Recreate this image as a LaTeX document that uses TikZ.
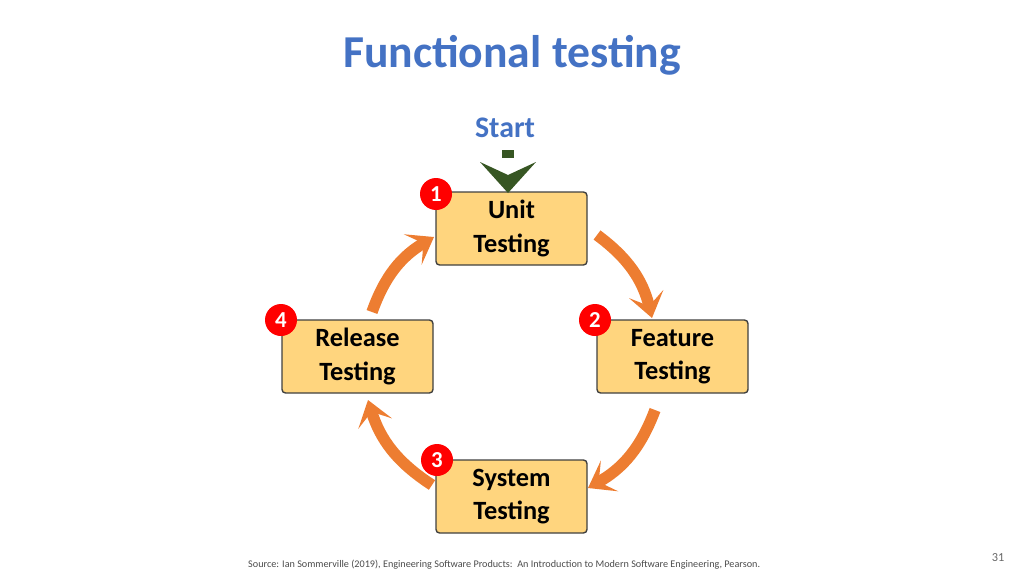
\documentclass[tikz,border=0pt]{standalone}
\usepackage{fontspec}
\setmainfont{Carlito}
\usetikzlibrary{arrows.meta}
\definecolor{titleblue}{HTML}{4472C4}
\definecolor{boxfill}{HTML}{FFD57E}
\definecolor{flow}{HTML}{ED7D31}
\definecolor{startgreen}{HTML}{375623}
\tikzset{
  stage/.style={draw=black!75, thick, fill=boxfill, rounded corners=2pt, minimum width=151*0.02cm,
    minimum height=73*0.02cm, align=center, font=\fontsize{15}{19}\selectfont\bfseries},
  badge/.style={circle, fill=red, text=white, inner sep=0pt, minimum size=0.64cm,
    font=\fontsize{13}{13}\selectfont\bfseries},
  flowarrow/.style={flow, line width=6.5pt, -{Stealth[length=14pt, width=20pt, inset=7pt]}},
}
\begin{document}
\begin{tikzpicture}[x=0.02cm, y=-0.02cm]
        \useasboundingbox (0,0) rectangle (1024,575);
        \node[text=titleblue, font=\fontsize{26}{30}\selectfont\bfseries] (title) at (512,55) {Functional testing};
        \node[text=titleblue, font=\fontsize{17}{20}\selectfont\bfseries] (start) at (505,128) {Start};
        \node[stage] (unit) at (511.5,228.5) {Unit\\Testing};
        \node[stage] (feature) at (672.5,356.5) {Feature\\Testing};
        \node[stage] (release) at (357.5,356.5) {Release\\Testing};
        \node[stage] (system) at (511.5,496.5) {System\\Testing};
        \node[badge] (b1) at (436,194) {1};
        \node[badge] (b2) at (595,320) {2};
        \node[badge] (b3) at (437,460) {3};
        \node[badge] (b4) at (281,320) {4};
        % start marker
        \fill[startgreen] (502,150) rectangle (514,158);
        \fill[startgreen] (480,162) -- (508,175) -- (536,162) -- (508,193) -- cycle;
        % cycle arrows
        \draw[flowarrow] (597,235) to[bend left=20] (652,318);
        \draw[flowarrow] (655,410) to[bend left=20] (588,488);
        \draw[flowarrow] (432,485) to[bend left=20] (368,400);
        \draw[flowarrow] (372,312) to[bend left=20] (434,237);
        \node[text=black!70, font=\fontsize{5.8}{7}\selectfont, anchor=west] (source) at (242,565)
          {Source: Ian Sommerville (2019), Engineering Software Products:\ \ An Introduction to Modern Software Engineering, Pearson.};
        \node[text=black!60, font=\fontsize{7}{8}\selectfont] (page) at (998,558) {31};
\end{tikzpicture}
\end{document}
